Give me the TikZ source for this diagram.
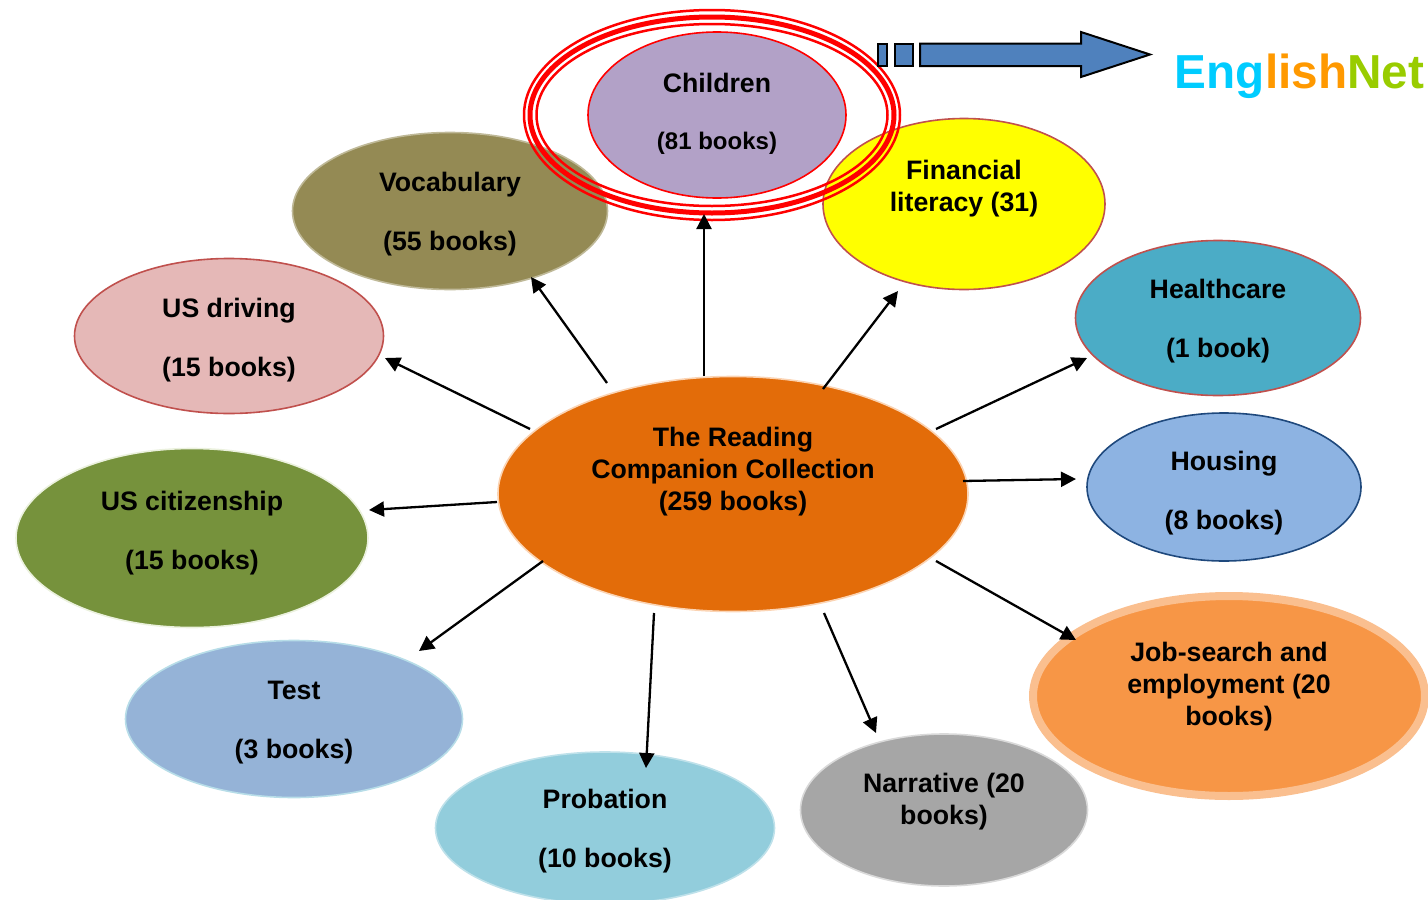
\documentclass[tikz,border=0pt]{standalone}
\usepackage{fontspec}
\setmainfont{Liberation Sans}
\usetikzlibrary{arrows.meta,shapes.geometric}
\definecolor{hubfill}{RGB}{227,108,9}
\definecolor{hubline}{RGB}{251,212,180}
\definecolor{childfill}{RGB}{178,161,199}
\definecolor{vocabfill}{RGB}{148,138,84}
\definecolor{drivefill}{RGB}{229,184,183}
\definecolor{redline}{RGB}{192,80,77}
\definecolor{finfill}{RGB}{255,255,0}
\definecolor{ringred}{RGB}{255,0,0}
\definecolor{citizenfill}{RGB}{118,146,60}
\definecolor{citizenline}{RGB}{235,241,222}
\definecolor{testfill}{RGB}{149,179,215}
\definecolor{testline}{RGB}{183,221,232}
\definecolor{probfill}{RGB}{146,205,220}
\definecolor{narrfill}{RGB}{166,166,166}
\definecolor{narrline}{RGB}{217,217,217}
\definecolor{jobfill}{RGB}{247,150,70}
\definecolor{jobline}{RGB}{250,191,143}
\definecolor{housefill}{RGB}{141,179,226}
\definecolor{houseline}{RGB}{31,73,125}
\definecolor{healthfill}{RGB}{75,172,198}
\definecolor{blockfill}{RGB}{79,129,189}
\definecolor{netcyan}{RGB}{0,204,255}
\definecolor{netorange}{RGB}{255,153,0}
\definecolor{netgreen}{RGB}{153,204,0}
\tikzset{
  bubble/.style={ellipse,draw,line width=1.6pt,inner sep=0pt,outer sep=0pt},
  caption/.style={align=center,inner sep=0pt,font=\fontsize{26.7}{32}\selectfont\bfseries},
  spoke/.style={line width=2.3pt,-{Triangle[length=15pt,width=15pt]}},
  ring/.style={ellipse,draw=ringred,inner sep=0pt,outer sep=0pt},
  blockpart/.style={draw=black,fill=blockfill,line width=2pt}
}

\begin{document}
\begin{tikzpicture}[x=1pt,y=-1pt]
\useasboundingbox (0,0) rectangle (1428,900);

\node [bubble,fill=vocabfill,draw=vocabfill!60!white,minimum width=315,minimum height=157,
  label={[caption,yshift=-3]center:{Vocabulary\\[27pt](55 books)}}] (vocab) at (450,211) {};
\node [bubble,fill=finfill,draw=redline,minimum width=282,minimum height=171,
  label={[caption,yshift=15]center:{Financial\\literacy (31)}}] (finance) at (964,204) {};
\node [bubble,fill=childfill,draw=ringred,minimum width=258,minimum height=166,
  label={[caption,yshift=1]center:{Children\\[25pt]\fontsize{24}{32}\selectfont (81 books)}}] (children) at (717,115) {};
% the three rings round the children
\node [ring,line width=2.5pt,minimum width=376,minimum height=210] (ringouter) at (712,115) {};
\node [ring,line width=5pt,minimum width=364,minimum height=196] (ringmiddle) at (712,115) {};
\node [ring,line width=2.5pt,minimum width=351,minimum height=182] (ringinner) at (712,115) {};

\node [bubble,fill=drivefill,draw=redline,minimum width=309,minimum height=155,
  label={[caption,yshift=-4]center:{US driving\\[27pt](15 books)}}] (driving) at (229,336) {};
\node [bubble,fill=citizenfill,draw=citizenline,minimum width=352,minimum height=179,
  label={[caption,yshift=5]center:{US citizenship\\[27pt](15 books)}}] (citizen) at (192,538) {};
\node [bubble,fill=testfill,draw=testline,minimum width=337,minimum height=157,
  label={[caption,yshift=-4]center:{Test\\[27pt](3 books)}}] (test) at (294,719) {};
\node [bubble,fill=probfill,draw=probfill!60!white,minimum width=339,minimum height=152,
  label={[caption,yshift=-3]center:{Probation\\[27pt](10 books)}}] (probation) at (605,828) {};
\node [bubble,fill=narrfill,draw=narrline,minimum width=287,minimum height=152,
  label={[caption,yshift=8]center:{Narrative (20\\books)}}] (narrative) at (944,810) {};
\node [bubble,fill=jobfill,draw=jobline,line width=8pt,minimum width=392,minimum height=200,
  label={[caption,yshift=9]center:{Job-search and\\employment (20\\books)}}] (job) at (1229,696) {};
\node [bubble,fill=housefill,draw=houseline,minimum width=274,minimum height=148,
  label={[caption,yshift=-6]center:{Housing\\[27pt](8 books)}}] (housing) at (1224,487) {};
\node [bubble,fill=healthfill,draw=redline,minimum width=285,minimum height=155,
  label={[caption,yshift=-3]center:{Healthcare\\[27pt](1 book)}}] (health) at (1218,318) {};
\node [bubble,fill=hubfill,draw=hubline,minimum width=470,minimum height=235,
  label={[caption,yshift=22]center:{The Reading\\Companion Collection\\(259 books)}}] (hub) at (733,494) {};

\draw [spoke] ([shift={(-126,-111)}]hub.center) -- ([shift={(81,66)}]vocab.center);
\draw [spoke] ([shift={(-29,-118)}]hub.center) -- ([shift={(-13,99)}]children.center);
\draw [spoke] ([shift={(90,-105)}]hub.center) -- ([shift={(-66,87)}]finance.center);
\draw [spoke] ([shift={(203,-65)}]hub.center) -- ([shift={(-131,40)}]health.center);
\draw [spoke] ([shift={(230,-13)}]hub.center) -- ([shift={(-148,-8)}]housing.center);
\draw [spoke] ([shift={(203,67)}]hub.center) -- ([shift={(-153,-56)}]job.center);
\draw [spoke] ([shift={(91,119)}]hub.center) -- ([shift={(-68,-77)}]narrative.center);
\draw [spoke] ([shift={(-79,119)}]hub.center) -- ([shift={(41,-60)}]probation.center);
\draw [spoke] ([shift={(-190,67)}]hub.center) -- ([shift={(125,-68)}]test.center);
\draw [spoke] ([shift={(-236,8)}]hub.center) -- ([shift={(177,-28)}]citizen.center);
\draw [spoke] ([shift={(-203,-65)}]hub.center) -- ([shift={(156,22)}]driving.center);

% block arrow
\draw [blockpart] (878,43.5) rectangle (887,66);
\draw [blockpart] (895,43.5) rectangle (913,66);
\draw [blockpart] (920,43.5) -- (1081,43.5) -- (1081,32) -- (1150,54.5) -- (1081,77) -- (1081,66) -- (920,66) -- cycle;

\node [inner sep=0pt,font=\fontsize{47.7}{50}\selectfont\bfseries] (englishnet) at (1299.5,76)
  {\textcolor{netcyan}{Eng}\textcolor{netorange}{lish}\textcolor{netgreen}{Net}};
\end{tikzpicture}
\end{document}
